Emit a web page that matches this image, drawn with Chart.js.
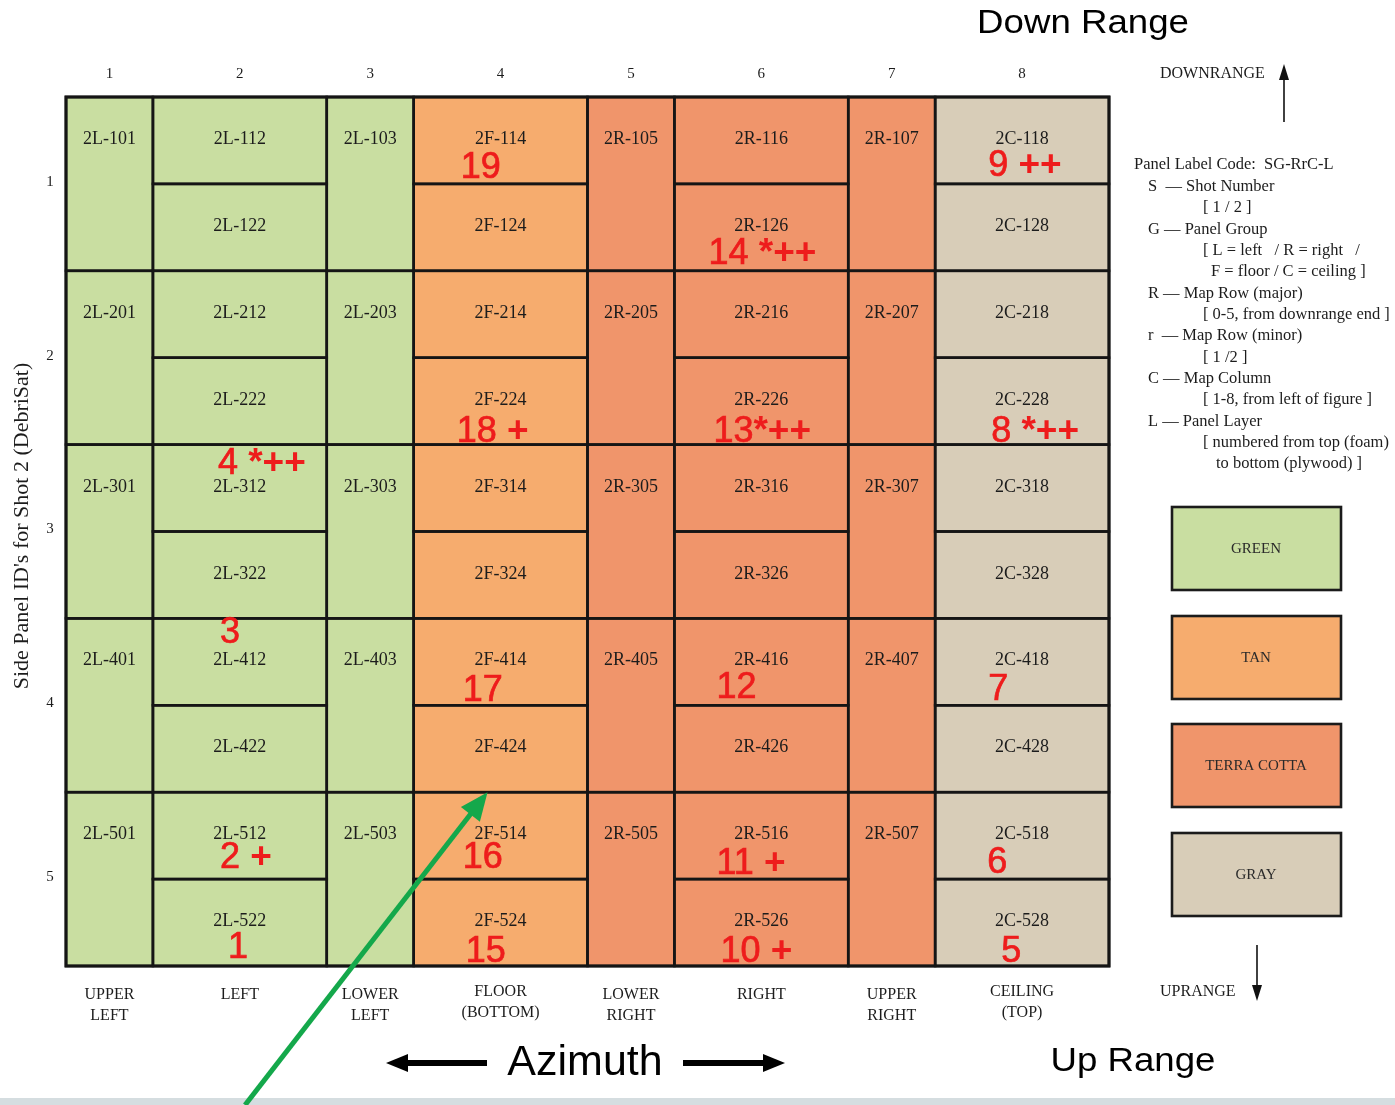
<!DOCTYPE html>
<html>
<head>
<meta charset="utf-8">
<script src="https://cdn.jsdelivr.net/npm/chart.js@4.4.1/dist/chart.umd.min.js"></script>
<style>
html,body{margin:0;padding:0;background:#fff;}
#wrap{width:1395px;height:1105px;position:relative;}
canvas{display:block;}
</style>
</head>
<body>
<div id="wrap"><canvas id="c" width="1395" height="1105"></canvas></div>
<script>
// ---------------- DATA ----------------
const shotNumber = '2';
const columnNumbers = ['1', '2', '3', '4', '5', '6', '7', '8'];
const columnGroups = ['L', 'L', 'L', 'F', 'R', 'R', 'R', 'C'];
const columnNames = [['UPPER', 'LEFT'], ['LEFT'], ['LOWER', 'LEFT'], ['FLOOR', '(BOTTOM)'],
                     ['LOWER', 'RIGHT'], ['RIGHT'], ['UPPER', 'RIGHT'], ['CEILING', '(TOP)']];
const rowNumbers = ['1', '2', '3', '4', '5'];
const minorRows = ['1', '2'];

// impact annotations (red)
const shotValues = [1, 2, 3, 4, 5, 6, 7, 8, 9, 10, 11, 12, 13, 14, 15, 16, 17, 18, 19];
const shotPanels = ['2L-522', '2L-512', '2L-412', '2L-312', '2C-528', '2C-518', '2C-418', '2C-228', '2C-118',
                    '2R-526', '2R-516', '2R-416', '2R-226', '2R-126', '2F-524', '2F-514', '2F-414', '2F-224', '2F-114'];
const shotMarks = ['', ' +', '', ' *++', '', '', '', ' *++', ' ++',
                   ' +', ' +', '', '*++', ' *++', '', '', '', ' +', ''];

const groupCodes = ['L', 'F', 'R', 'C'];
const groupNames = ['GREEN', 'TAN', 'TERRA COTTA', 'GRAY'];

const legendLines = [
  'Panel Label Code:  SG-RrC-L',
  'S  \u2014 Shot Number',
  '[ 1 / 2 ]',
  'G \u2014 Panel Group',
  '[ L = left   / R = right   /',
  'F = floor / C = ceiling ]',
  'R \u2014 Map Row (major)',
  '[ 0-5, from downrange end ]',
  'r  \u2014 Map Row (minor)',
  '[ 1 /2 ]',
  'C \u2014 Map Column',
  '[ 1-8, from left of figure ]',
  'L \u2014 Panel Layer',
  '[ numbered from top (foam)',
  'to bottom (plywood) ]'
];

const titleTop = 'Down Range';
const titleBottom = 'Up Range';
const azimuthLabel = 'Azimuth';
const yAxisTitle = "Side Panel ID's for Shot 2 (DebriSat)";
const downLabel = 'DOWNRANGE';
const upLabel = 'UPRANGE';

// ---------------- LAYOUT / STYLE ----------------
const colUnits = [1, 2, 1, 2, 1, 2, 1, 2];      // narrow / wide column widths in scale units
const groupColors = {L: '#c9dea1', F: '#f6ac6e', R: '#f0956b', C: '#d8cdb8'};
const SERIF = '"Liberation Serif", "DejaVu Serif", serif';
const SANS = '"Liberation Sans", Arial, sans-serif';
const INK = '#1c1c1c';
const RED = '#ee1c1c';
// red note anchors: [px from cell left, baseline px from cell top]
const noteOffsets = [[75, 79], [67, 76], [67, 25], [65, 29], [66, 83], [52, 81], [53, 82], [56, 84], [53, 79],
                     [46, 83], [42, 82], [42, 80], [39, 84], [34, 80], [52, 83], [49, 76], [49, 83], [43, 84], [47, 81]];
const legendIndent = [1134, 1148, 1203, 1148, 1203, 1211, 1148, 1203, 1148, 1203, 1148, 1203, 1148, 1203, 1216];
const legendY0 = 165, legendStep = 21.35;
const legendBoxTops = [507, 616, 724, 833];
// green pointer arrow in data units
const pointerFrom = {x: 2.06, y: 11.6};
const pointerTo = {x: 4.85, y: 8.0};

// column boundaries in scale units
const colStart = [];
(function(){ let s = 0; for (const u of colUnits) { colStart.push(s); s += u; } })();
const totalUnits = colUnits.reduce((a, b) => a + b, 0);

// build cells
function buildCells() {
  const cells = [];
  columnNumbers.forEach((cn, ci) => {
    const g = columnGroups[ci];
    rowNumbers.forEach((rn, ri) => {
      if (colUnits[ci] === 1) {
        cells.push({id: shotNumber + g + '-' + rn + '0' + cn, g, x0: colStart[ci], x1: colStart[ci] + 1, y0: ri * 2, y1: ri * 2 + 2});
      } else {
        minorRows.forEach((mr, mi) => {
          cells.push({id: shotNumber + g + '-' + rn + mr + cn, g, x0: colStart[ci], x1: colStart[ci] + colUnits[ci], y0: ri * 2 + mi, y1: ri * 2 + mi + 1});
        });
      }
    });
  });
  return cells;
}
const cells = buildCells();

function arrow(ctx, x1, y1, x2, y2, w, hl, hw, color) {
  const a = Math.atan2(y2 - y1, x2 - x1);
  const bx = x2 - Math.cos(a) * hl, by = y2 - Math.sin(a) * hl;
  ctx.save();
  ctx.strokeStyle = color; ctx.fillStyle = color; ctx.lineWidth = w; ctx.lineCap = 'butt';
  ctx.beginPath(); ctx.moveTo(x1, y1); ctx.lineTo(bx + Math.cos(a) * 2, by + Math.sin(a) * 2); ctx.stroke();
  ctx.beginPath();
  ctx.moveTo(x2, y2);
  ctx.lineTo(bx + Math.sin(a) * hw / 2, by - Math.cos(a) * hw / 2);
  ctx.lineTo(bx - Math.sin(a) * hw / 2, by + Math.cos(a) * hw / 2);
  ctx.closePath(); ctx.fill();
  ctx.restore();
}

const panelPlugin = {
  id: 'panelMap',
  beforeDraw(chart) {
    const ctx = chart.ctx;
    ctx.save();
    ctx.fillStyle = '#ffffff';
    ctx.fillRect(0, 0, chart.width, chart.height);
    ctx.fillStyle = '#d5dde0';
    ctx.fillRect(0, chart.height - 7, chart.width, 7);
    ctx.restore();
  },
  afterDatasetsDraw(chart) {
    const ctx = chart.ctx;
    const xs = chart.scales.x, ys = chart.scales.y;
    const X = v => xs.getPixelForValue(v), Y = v => ys.getPixelForValue(v);
    ctx.save();

    // cells
    const cellPx = {};
    cells.forEach(c => {
      const l = X(c.x0), r = X(c.x1), t = Y(c.y0), b = Y(c.y1);
      cellPx[c.id] = {l, r, t, b};
      ctx.fillStyle = groupColors[c.g];
      ctx.fillRect(l, t, r - l, b - t);
    });
    ctx.strokeStyle = '#151515';
    ctx.lineWidth = 2.6;
    cells.forEach(c => {
      const p = cellPx[c.id];
      ctx.strokeRect(p.l, p.t, p.r - p.l, p.b - p.t);
    });
    // outer frame
    ctx.lineWidth = 3;
    ctx.strokeRect(X(0), Y(0), X(totalUnits) - X(0), Y(10) - Y(0));

    // panel ids
    ctx.fillStyle = INK;
    ctx.font = '18px ' + SERIF;
    ctx.textAlign = 'center';
    ctx.textBaseline = 'alphabetic';
    cells.forEach(c => {
      const p = cellPx[c.id];
      ctx.fillText(c.id, (p.l + p.r) / 2, p.t + 47);
    });

    // column numbers (top) and names (bottom)
    ctx.font = '15px ' + SERIF;
    ctx.textBaseline = 'middle';
    columnNumbers.forEach((cn, ci) => {
      const cx = X(colStart[ci] + colUnits[ci] / 2);
      ctx.fillText(cn, cx, Y(0) - 23);
    });
    ctx.font = '16px ' + SERIF;
    columnNames.forEach((nm, ci) => {
      const cx = X(colStart[ci] + colUnits[ci] / 2);
      const base = nm[1] && nm[1].startsWith('(') ? Y(10) + 26 : Y(10) + 29;
      nm.forEach((line, li) => ctx.fillText(line, cx, base + li * 21));
    });
    // row numbers
    ctx.font = '15px ' + SERIF;
    rowNumbers.forEach((rn, ri) => {
      ctx.fillText(rn, X(0) - 16, Y(ri * 2 + 1) - 2);
    });

    // y axis title
    ctx.save();
    ctx.translate(22, 526);
    ctx.rotate(-Math.PI / 2);
    ctx.font = '22px ' + SERIF;
    ctx.fillText(yAxisTitle, 0, 0);
    ctx.restore();

    // red shot annotations
    shotPanels.forEach((pid, i) => {
      const p = cellPx[pid];
      if (!p) return;
      const x = p.l + noteOffsets[i][0], y = p.t + noteOffsets[i][1];
      ctx.textAlign = 'left';
      ctx.textBaseline = 'alphabetic';
      ctx.fillStyle = RED;
      ctx.strokeStyle = RED;
      ctx.lineWidth = 0.7;
      ctx.font = '36px ' + SANS;
      const num = String(shotValues[i]);
      ctx.fillText(num, x, y);
      ctx.strokeText(num, x, y);
      const w = ctx.measureText(num).width;
      if (shotMarks[i]) {
        ctx.font = 'bold 37px ' + SANS;
        ctx.fillText(shotMarks[i], x + w, y);
      }
    });

    // green pointer arrow
    arrow(ctx, X(pointerFrom.x), Y(pointerFrom.y), X(pointerTo.x), Y(pointerTo.y), 5, 28, 24, '#14a84b');

    // titles
    ctx.fillStyle = '#000';
    ctx.textAlign = 'center';
    ctx.textBaseline = 'middle';
    ctx.save();
    ctx.translate(1083, 24);
    ctx.scale(1.11, 1);
    ctx.font = '33px ' + SANS;
    ctx.fillText(titleTop, 0, 0);
    ctx.restore();
    ctx.save();
    ctx.translate(1133, 1062);
    ctx.scale(1.11, 1);
    ctx.font = '33px ' + SANS;
    ctx.fillText(titleBottom, 0, 0);
    ctx.restore();
    ctx.font = '43px ' + SANS;
    ctx.fillText(azimuthLabel, 585, 1063);
    arrow(ctx, 487, 1063, 386, 1063, 6, 22, 18, '#000');
    arrow(ctx, 683, 1063, 785, 1063, 6, 22, 18, '#000');

    // downrange / uprange
    ctx.fillStyle = INK;
    ctx.font = '16px ' + SERIF;
    ctx.textAlign = 'left';
    ctx.fillText(downLabel, 1160, 74);
    arrow(ctx, 1284, 122, 1284, 64, 1.6, 16, 10, '#111');
    ctx.fillText(upLabel, 1160, 992);
    arrow(ctx, 1257, 945, 1257, 1001, 1.6, 16, 10, '#111');

    // legend text
    ctx.font = '17px ' + SERIF;
    legendLines.forEach((ln, i) => {
      ctx.save();
      ctx.translate(legendIndent[i], legendY0 + i * legendStep);
      ctx.scale(0.97, 1);
      ctx.fillText(ln, 0, 0);
      ctx.restore();
    });

    // colour legend boxes
    ctx.textAlign = 'center';
    groupNames.forEach((nm, i) => {
      const t = legendBoxTops[i];
      ctx.fillStyle = groupColors[groupCodes[i]];
      ctx.fillRect(1172, t, 169, 83);
      ctx.strokeStyle = '#1b1b1b';
      ctx.lineWidth = 2.6;
      ctx.strokeRect(1172, t, 169, 83);
      ctx.fillStyle = '#2a2a2a';
      ctx.font = '15px ' + SERIF;
      ctx.fillText(nm, 1256, t + 42);
    });

    ctx.restore();
  }
};

new Chart(document.getElementById('c'), {
  type: 'scatter',
  data: {datasets: [{data: [], pointRadius: 0}]},
  options: {
    responsive: false,
    animation: false,
    layout: {padding: {left: 66, top: 97, right: 286, bottom: 139}},
    scales: {
      x: {type: 'linear', min: 0, max: totalUnits, display: false},
      y: {type: 'linear', min: 0, max: 10, reverse: true, display: false}
    },
    plugins: {legend: {display: false}, tooltip: {enabled: false}, title: {display: false}}
  },
  plugins: [panelPlugin]
});
</script>
</body>
</html>
